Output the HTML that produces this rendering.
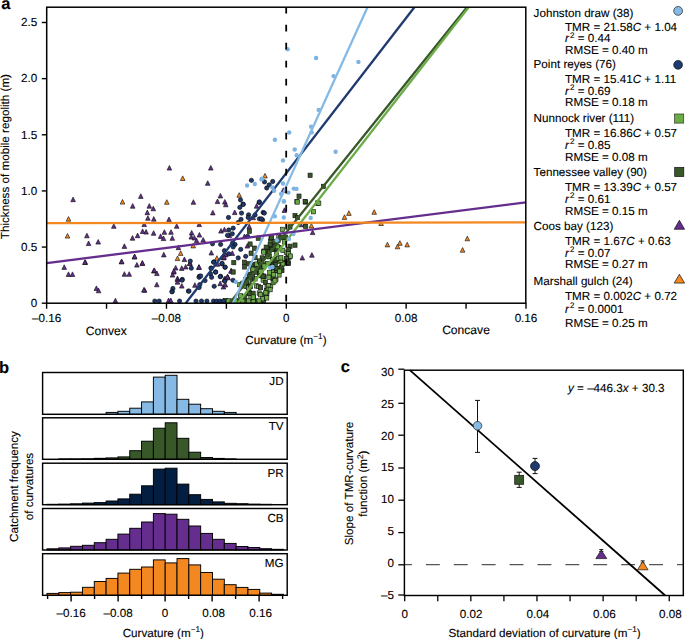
<!DOCTYPE html>
<html><head><meta charset="utf-8"><title>Figure</title>
<style>
html,body{margin:0;padding:0;background:#fff;width:685px;height:639px;overflow:hidden;}
svg{display:block;}
text{font-family:"Liberation Sans",sans-serif;fill:#000;stroke:#000;stroke-width:0.12px;text-rendering:geometricPrecision;}
</style></head><body>
<svg width="685" height="639" viewBox="0 0 685 639" font-family="Liberation Sans, sans-serif">
<rect width="685" height="639" fill="#fff"/>
<defs><clipPath id="ca"><rect x="46.7" y="7.2" width="479.09999999999997" height="296.0"/></clipPath></defs>
<g clip-path="url(#ca)">
<path d="M122.5 199.49L124.8 204.09L120.2 204.09Z" fill="#F48820" stroke="#111" stroke-width="0.65" stroke-linejoin="miter"/>
<path d="M182.7 175.89L185 180.49L180.4 180.49Z" fill="#F48820" stroke="#111" stroke-width="0.65" stroke-linejoin="miter"/>
<path d="M166.8 199.69L169.1 204.29L164.5 204.29Z" fill="#F48820" stroke="#111" stroke-width="0.65" stroke-linejoin="miter"/>
<path d="M265 173.39L267.3 177.99L262.7 177.99Z" fill="#F48820" stroke="#111" stroke-width="0.65" stroke-linejoin="miter"/>
<path d="M239.2 192.69L241.5 197.29L236.9 197.29Z" fill="#F48820" stroke="#111" stroke-width="0.65" stroke-linejoin="miter"/>
<path d="M68.5 216.59L70.8 221.19L66.2 221.19Z" fill="#F48820" stroke="#111" stroke-width="0.65" stroke-linejoin="miter"/>
<path d="M67.5 233.49L69.8 238.09L65.2 238.09Z" fill="#F48820" stroke="#111" stroke-width="0.65" stroke-linejoin="miter"/>
<path d="M193.2 243.29L195.5 247.89L190.9 247.89Z" fill="#F48820" stroke="#111" stroke-width="0.65" stroke-linejoin="miter"/>
<path d="M180.7 250.79L183 255.39L178.4 255.39Z" fill="#F48820" stroke="#111" stroke-width="0.65" stroke-linejoin="miter"/>
<path d="M177.5 255.99L179.8 260.59L175.2 260.59Z" fill="#F48820" stroke="#111" stroke-width="0.65" stroke-linejoin="miter"/>
<path d="M216.9 255.69L219.2 260.29L214.6 260.29Z" fill="#F48820" stroke="#111" stroke-width="0.65" stroke-linejoin="miter"/>
<path d="M311.4 223.39L313.7 227.99L309.1 227.99Z" fill="#F48820" stroke="#111" stroke-width="0.65" stroke-linejoin="miter"/>
<path d="M344.5 214.79L346.8 219.39L342.2 219.39Z" fill="#F48820" stroke="#111" stroke-width="0.65" stroke-linejoin="miter"/>
<path d="M348.9 210.79L351.2 215.39L346.6 215.39Z" fill="#F48820" stroke="#111" stroke-width="0.65" stroke-linejoin="miter"/>
<path d="M374.2 209.69L376.5 214.29L371.9 214.29Z" fill="#F48820" stroke="#111" stroke-width="0.65" stroke-linejoin="miter"/>
<path d="M381.1 220.89L383.4 225.49L378.8 225.49Z" fill="#F48820" stroke="#111" stroke-width="0.65" stroke-linejoin="miter"/>
<path d="M387.4 242.29L389.7 246.89L385.1 246.89Z" fill="#F48820" stroke="#111" stroke-width="0.65" stroke-linejoin="miter"/>
<path d="M399.9 240.69L402.2 245.29L397.6 245.29Z" fill="#F48820" stroke="#111" stroke-width="0.65" stroke-linejoin="miter"/>
<path d="M397.5 244.19L399.8 248.79L395.2 248.79Z" fill="#F48820" stroke="#111" stroke-width="0.65" stroke-linejoin="miter"/>
<path d="M407.2 242.29L409.5 246.89L404.9 246.89Z" fill="#F48820" stroke="#111" stroke-width="0.65" stroke-linejoin="miter"/>
<path d="M467.3 236.19L469.6 240.79L465 240.79Z" fill="#F48820" stroke="#111" stroke-width="0.65" stroke-linejoin="miter"/>
<path d="M462.6 247.59L464.9 252.19L460.3 252.19Z" fill="#F48820" stroke="#111" stroke-width="0.65" stroke-linejoin="miter"/>
<path d="M73.1 197.09L75.4 201.69L70.8 201.69Z" fill="#642D8E" stroke="#111" stroke-width="0.65" stroke-linejoin="miter"/>
<path d="M169.4 165.49L171.7 170.09L167.1 170.09Z" fill="#642D8E" stroke="#111" stroke-width="0.65" stroke-linejoin="miter"/>
<path d="M210.8 165.49L213.1 170.09L208.5 170.09Z" fill="#642D8E" stroke="#111" stroke-width="0.65" stroke-linejoin="miter"/>
<path d="M207.7 180.69L210 185.29L205.4 185.29Z" fill="#642D8E" stroke="#111" stroke-width="0.65" stroke-linejoin="miter"/>
<path d="M140.8 193.79L143.1 198.39L138.5 198.39Z" fill="#642D8E" stroke="#111" stroke-width="0.65" stroke-linejoin="miter"/>
<path d="M193.4 199.69L195.7 204.29L191.1 204.29Z" fill="#642D8E" stroke="#111" stroke-width="0.65" stroke-linejoin="miter"/>
<path d="M220.4 193.39L222.7 197.99L218.1 197.99Z" fill="#642D8E" stroke="#111" stroke-width="0.65" stroke-linejoin="miter"/>
<path d="M217.5 198.99L219.8 203.59L215.2 203.59Z" fill="#642D8E" stroke="#111" stroke-width="0.65" stroke-linejoin="miter"/>
<path d="M224.8 199.49L227.1 204.09L222.5 204.09Z" fill="#642D8E" stroke="#111" stroke-width="0.65" stroke-linejoin="miter"/>
<path d="M225.8 202.19L228.1 206.79L223.5 206.79Z" fill="#642D8E" stroke="#111" stroke-width="0.65" stroke-linejoin="miter"/>
<path d="M132.7 203.59L135 208.19L130.4 208.19Z" fill="#642D8E" stroke="#111" stroke-width="0.65" stroke-linejoin="miter"/>
<path d="M149.3 203.59L151.6 208.19L147 208.19Z" fill="#642D8E" stroke="#111" stroke-width="0.65" stroke-linejoin="miter"/>
<path d="M153.3 206.19L155.6 210.79L151 210.79Z" fill="#642D8E" stroke="#111" stroke-width="0.65" stroke-linejoin="miter"/>
<path d="M256.6 203.59L258.9 208.19L254.3 208.19Z" fill="#642D8E" stroke="#111" stroke-width="0.65" stroke-linejoin="miter"/>
<path d="M86.9 233.19L89.2 237.79L84.6 237.79Z" fill="#642D8E" stroke="#111" stroke-width="0.65" stroke-linejoin="miter"/>
<path d="M88.6 240.99L90.9 245.59L86.3 245.59Z" fill="#642D8E" stroke="#111" stroke-width="0.65" stroke-linejoin="miter"/>
<path d="M98.2 239.49L100.5 244.09L95.9 244.09Z" fill="#642D8E" stroke="#111" stroke-width="0.65" stroke-linejoin="miter"/>
<path d="M85.3 259.79L87.6 264.39L83 264.39Z" fill="#642D8E" stroke="#111" stroke-width="0.65" stroke-linejoin="miter"/>
<path d="M64.2 264.79L66.5 269.39L61.9 269.39Z" fill="#642D8E" stroke="#111" stroke-width="0.65" stroke-linejoin="miter"/>
<path d="M68.5 271.89L70.8 276.49L66.2 276.49Z" fill="#642D8E" stroke="#111" stroke-width="0.65" stroke-linejoin="miter"/>
<path d="M72.5 271.89L74.8 276.49L70.2 276.49Z" fill="#642D8E" stroke="#111" stroke-width="0.65" stroke-linejoin="miter"/>
<path d="M147.3 210.09L149.6 214.69L145 214.69Z" fill="#642D8E" stroke="#111" stroke-width="0.65" stroke-linejoin="miter"/>
<path d="M147.9 215.69L150.2 220.29L145.6 220.29Z" fill="#642D8E" stroke="#111" stroke-width="0.65" stroke-linejoin="miter"/>
<path d="M153.8 216.59L156.1 221.19L151.5 221.19Z" fill="#642D8E" stroke="#111" stroke-width="0.65" stroke-linejoin="miter"/>
<path d="M144.2 221.99L146.5 226.59L141.9 226.59Z" fill="#642D8E" stroke="#111" stroke-width="0.65" stroke-linejoin="miter"/>
<path d="M113.8 223.69L116.1 228.29L111.5 228.29Z" fill="#642D8E" stroke="#111" stroke-width="0.65" stroke-linejoin="miter"/>
<path d="M142.6 228.89L144.9 233.49L140.3 233.49Z" fill="#642D8E" stroke="#111" stroke-width="0.65" stroke-linejoin="miter"/>
<path d="M146.1 229.49L148.4 234.09L143.8 234.09Z" fill="#642D8E" stroke="#111" stroke-width="0.65" stroke-linejoin="miter"/>
<path d="M153.6 230.69L155.9 235.29L151.3 235.29Z" fill="#642D8E" stroke="#111" stroke-width="0.65" stroke-linejoin="miter"/>
<path d="M137.6 233.09L139.9 237.69L135.3 237.69Z" fill="#642D8E" stroke="#111" stroke-width="0.65" stroke-linejoin="miter"/>
<path d="M132.5 235.59L134.8 240.19L130.2 240.19Z" fill="#642D8E" stroke="#111" stroke-width="0.65" stroke-linejoin="miter"/>
<path d="M124.4 243.79L126.7 248.39L122.1 248.39Z" fill="#642D8E" stroke="#111" stroke-width="0.65" stroke-linejoin="miter"/>
<path d="M134.4 254.49L136.7 259.09L132.1 259.09Z" fill="#642D8E" stroke="#111" stroke-width="0.65" stroke-linejoin="miter"/>
<path d="M121.5 259.19L123.8 263.79L119.2 263.79Z" fill="#642D8E" stroke="#111" stroke-width="0.65" stroke-linejoin="miter"/>
<path d="M136.9 262.49L139.2 267.09L134.6 267.09Z" fill="#642D8E" stroke="#111" stroke-width="0.65" stroke-linejoin="miter"/>
<path d="M142.3 260.79L144.6 265.39L140 265.39Z" fill="#642D8E" stroke="#111" stroke-width="0.65" stroke-linejoin="miter"/>
<path d="M124.4 271.69L126.7 276.29L122.1 276.29Z" fill="#642D8E" stroke="#111" stroke-width="0.65" stroke-linejoin="miter"/>
<path d="M129.2 271.69L131.5 276.29L126.9 276.29Z" fill="#642D8E" stroke="#111" stroke-width="0.65" stroke-linejoin="miter"/>
<path d="M153.8 268.49L156.1 273.09L151.5 273.09Z" fill="#642D8E" stroke="#111" stroke-width="0.65" stroke-linejoin="miter"/>
<path d="M169 216.99L171.3 221.59L166.7 221.59Z" fill="#642D8E" stroke="#111" stroke-width="0.65" stroke-linejoin="miter"/>
<path d="M176.7 223.69L179 228.29L174.4 228.29Z" fill="#642D8E" stroke="#111" stroke-width="0.65" stroke-linejoin="miter"/>
<path d="M199.2 221.99L201.5 226.59L196.9 226.59Z" fill="#642D8E" stroke="#111" stroke-width="0.65" stroke-linejoin="miter"/>
<path d="M164.4 229.69L166.7 234.29L162.1 234.29Z" fill="#642D8E" stroke="#111" stroke-width="0.65" stroke-linejoin="miter"/>
<path d="M171 229.69L173.3 234.29L168.7 234.29Z" fill="#642D8E" stroke="#111" stroke-width="0.65" stroke-linejoin="miter"/>
<path d="M160.6 233.89L162.9 238.49L158.3 238.49Z" fill="#642D8E" stroke="#111" stroke-width="0.65" stroke-linejoin="miter"/>
<path d="M163.5 235.99L165.8 240.59L161.2 240.59Z" fill="#642D8E" stroke="#111" stroke-width="0.65" stroke-linejoin="miter"/>
<path d="M172.3 235.69L174.6 240.29L170 240.29Z" fill="#642D8E" stroke="#111" stroke-width="0.65" stroke-linejoin="miter"/>
<path d="M191.7 230.39L194 234.99L189.4 234.99Z" fill="#642D8E" stroke="#111" stroke-width="0.65" stroke-linejoin="miter"/>
<path d="M191.3 234.49L193.6 239.09L189 239.09Z" fill="#642D8E" stroke="#111" stroke-width="0.65" stroke-linejoin="miter"/>
<path d="M194.4 235.39L196.7 239.99L192.1 239.99Z" fill="#642D8E" stroke="#111" stroke-width="0.65" stroke-linejoin="miter"/>
<path d="M199.4 232.49L201.7 237.09L197.1 237.09Z" fill="#642D8E" stroke="#111" stroke-width="0.65" stroke-linejoin="miter"/>
<path d="M196.6 238.19L198.9 242.79L194.3 242.79Z" fill="#642D8E" stroke="#111" stroke-width="0.65" stroke-linejoin="miter"/>
<path d="M203.2 237.49L205.5 242.09L200.9 242.09Z" fill="#642D8E" stroke="#111" stroke-width="0.65" stroke-linejoin="miter"/>
<path d="M178.4 245.09L180.7 249.69L176.1 249.69Z" fill="#642D8E" stroke="#111" stroke-width="0.65" stroke-linejoin="miter"/>
<path d="M163.8 252.29L166.1 256.89L161.5 256.89Z" fill="#642D8E" stroke="#111" stroke-width="0.65" stroke-linejoin="miter"/>
<path d="M184.4 256.99L186.7 261.59L182.1 261.59Z" fill="#642D8E" stroke="#111" stroke-width="0.65" stroke-linejoin="miter"/>
<path d="M189.8 260.99L192.1 265.59L187.5 265.59Z" fill="#642D8E" stroke="#111" stroke-width="0.65" stroke-linejoin="miter"/>
<path d="M185.7 264.39L188 268.99L183.4 268.99Z" fill="#642D8E" stroke="#111" stroke-width="0.65" stroke-linejoin="miter"/>
<path d="M181.7 265.79L184 270.39L179.4 270.39Z" fill="#642D8E" stroke="#111" stroke-width="0.65" stroke-linejoin="miter"/>
<path d="M175.7 265.39L178 269.99L173.4 269.99Z" fill="#642D8E" stroke="#111" stroke-width="0.65" stroke-linejoin="miter"/>
<path d="M198.8 264.79L201.1 269.39L196.5 269.39Z" fill="#642D8E" stroke="#111" stroke-width="0.65" stroke-linejoin="miter"/>
<path d="M154.4 267.89L156.7 272.49L152.1 272.49Z" fill="#642D8E" stroke="#111" stroke-width="0.65" stroke-linejoin="miter"/>
<path d="M156.9 270.99L159.2 275.59L154.6 275.59Z" fill="#642D8E" stroke="#111" stroke-width="0.65" stroke-linejoin="miter"/>
<path d="M173.8 269.49L176.1 274.09L171.5 274.09Z" fill="#642D8E" stroke="#111" stroke-width="0.65" stroke-linejoin="miter"/>
<path d="M172.5 272.49L174.8 277.09L170.2 277.09Z" fill="#642D8E" stroke="#111" stroke-width="0.65" stroke-linejoin="miter"/>
<path d="M177.5 275.99L179.8 280.59L175.2 280.59Z" fill="#642D8E" stroke="#111" stroke-width="0.65" stroke-linejoin="miter"/>
<path d="M212.8 210.29L215.1 214.89L210.5 214.89Z" fill="#642D8E" stroke="#111" stroke-width="0.65" stroke-linejoin="miter"/>
<path d="M234.7 209.99L237 214.59L232.4 214.59Z" fill="#642D8E" stroke="#111" stroke-width="0.65" stroke-linejoin="miter"/>
<path d="M253.2 215.09L255.5 219.69L250.9 219.69Z" fill="#642D8E" stroke="#111" stroke-width="0.65" stroke-linejoin="miter"/>
<path d="M221 228.49L223.3 233.09L218.7 233.09Z" fill="#642D8E" stroke="#111" stroke-width="0.65" stroke-linejoin="miter"/>
<path d="M224.4 227.19L226.7 231.79L222.1 231.79Z" fill="#642D8E" stroke="#111" stroke-width="0.65" stroke-linejoin="miter"/>
<path d="M229.4 232.89L231.7 237.49L227.1 237.49Z" fill="#642D8E" stroke="#111" stroke-width="0.65" stroke-linejoin="miter"/>
<path d="M249.2 224.09L251.5 228.69L246.9 228.69Z" fill="#642D8E" stroke="#111" stroke-width="0.65" stroke-linejoin="miter"/>
<path d="M244.4 234.09L246.7 238.69L242.1 238.69Z" fill="#642D8E" stroke="#111" stroke-width="0.65" stroke-linejoin="miter"/>
<path d="M247.3 243.49L249.6 248.09L245 248.09Z" fill="#642D8E" stroke="#111" stroke-width="0.65" stroke-linejoin="miter"/>
<path d="M211.3 250.39L213.6 254.99L209 254.99Z" fill="#642D8E" stroke="#111" stroke-width="0.65" stroke-linejoin="miter"/>
<path d="M225.7 252.29L228 256.89L223.4 256.89Z" fill="#642D8E" stroke="#111" stroke-width="0.65" stroke-linejoin="miter"/>
<path d="M232.3 250.79L234.6 255.39L230 255.39Z" fill="#642D8E" stroke="#111" stroke-width="0.65" stroke-linejoin="miter"/>
<path d="M223.5 255.39L225.8 259.99L221.2 259.99Z" fill="#642D8E" stroke="#111" stroke-width="0.65" stroke-linejoin="miter"/>
<path d="M217.5 261.69L219.8 266.29L215.2 266.29Z" fill="#642D8E" stroke="#111" stroke-width="0.65" stroke-linejoin="miter"/>
<path d="M231.5 268.49L233.8 273.09L229.2 273.09Z" fill="#642D8E" stroke="#111" stroke-width="0.65" stroke-linejoin="miter"/>
<path d="M227.5 274.19L229.8 278.79L225.2 278.79Z" fill="#642D8E" stroke="#111" stroke-width="0.65" stroke-linejoin="miter"/>
<path d="M225 275.99L227.3 280.59L222.7 280.59Z" fill="#642D8E" stroke="#111" stroke-width="0.65" stroke-linejoin="miter"/>
<path d="M284.4 207.79L286.7 212.39L282.1 212.39Z" fill="#642D8E" stroke="#111" stroke-width="0.65" stroke-linejoin="miter"/>
<path d="M312.6 229.99L314.9 234.59L310.3 234.59Z" fill="#642D8E" stroke="#111" stroke-width="0.65" stroke-linejoin="miter"/>
<path d="M288.8 250.39L291.1 254.99L286.5 254.99Z" fill="#642D8E" stroke="#111" stroke-width="0.65" stroke-linejoin="miter"/>
<path d="M302.3 255.39L304.6 259.99L300 259.99Z" fill="#642D8E" stroke="#111" stroke-width="0.65" stroke-linejoin="miter"/>
<path d="M311.9 252.59L314.2 257.19L309.6 257.19Z" fill="#642D8E" stroke="#111" stroke-width="0.65" stroke-linejoin="miter"/>
<path d="M305.1 222.19L307.4 226.79L302.8 226.79Z" fill="#642D8E" stroke="#111" stroke-width="0.65" stroke-linejoin="miter"/>
<path d="M300.7 222.19L303 226.79L298.4 226.79Z" fill="#642D8E" stroke="#111" stroke-width="0.65" stroke-linejoin="miter"/>
<path d="M273.1 275.79L275.4 280.39L270.8 280.39Z" fill="#642D8E" stroke="#111" stroke-width="0.65" stroke-linejoin="miter"/>
<path d="M142.4 260.69L144.7 265.29L140.1 265.29Z" fill="#642D8E" stroke="#111" stroke-width="0.65" stroke-linejoin="miter"/>
<path d="M189.9 260.69L192.2 265.29L187.6 265.29Z" fill="#642D8E" stroke="#111" stroke-width="0.65" stroke-linejoin="miter"/>
<path d="M199.1 264.69L201.4 269.29L196.8 269.29Z" fill="#642D8E" stroke="#111" stroke-width="0.65" stroke-linejoin="miter"/>
<path d="M173.9 268.59L176.2 273.19L171.6 273.19Z" fill="#642D8E" stroke="#111" stroke-width="0.65" stroke-linejoin="miter"/>
<path d="M177.5 277.19L179.8 281.79L175.2 281.79Z" fill="#642D8E" stroke="#111" stroke-width="0.65" stroke-linejoin="miter"/>
<path d="M177.5 279.59L179.8 284.19L175.2 284.19Z" fill="#642D8E" stroke="#111" stroke-width="0.65" stroke-linejoin="miter"/>
<path d="M181.8 283.49L184.1 288.09L179.5 288.09Z" fill="#642D8E" stroke="#111" stroke-width="0.65" stroke-linejoin="miter"/>
<path d="M156.8 282.19L159.1 286.79L154.5 286.79Z" fill="#642D8E" stroke="#111" stroke-width="0.65" stroke-linejoin="miter"/>
<path d="M144.6 287.69L146.9 292.29L142.3 292.29Z" fill="#642D8E" stroke="#111" stroke-width="0.65" stroke-linejoin="miter"/>
<path d="M194.9 282.69L197.2 287.29L192.6 287.29Z" fill="#642D8E" stroke="#111" stroke-width="0.65" stroke-linejoin="miter"/>
<path d="M220.2 281.09L222.5 285.69L217.9 285.69Z" fill="#642D8E" stroke="#111" stroke-width="0.65" stroke-linejoin="miter"/>
<path d="M224.1 277.19L226.4 281.79L221.8 281.79Z" fill="#642D8E" stroke="#111" stroke-width="0.65" stroke-linejoin="miter"/>
<path d="M223.4 284.39L225.7 288.99L221.1 288.99Z" fill="#642D8E" stroke="#111" stroke-width="0.65" stroke-linejoin="miter"/>
<path d="M225.4 282.39L227.7 286.99L223.1 286.99Z" fill="#642D8E" stroke="#111" stroke-width="0.65" stroke-linejoin="miter"/>
<path d="M228 275.19L230.3 279.79L225.7 279.79Z" fill="#642D8E" stroke="#111" stroke-width="0.65" stroke-linejoin="miter"/>
<path d="M224.1 254.79L226.4 259.39L221.8 259.39Z" fill="#642D8E" stroke="#111" stroke-width="0.65" stroke-linejoin="miter"/>
<path d="M168.6 297.99L170.9 302.59L166.3 302.59Z" fill="#642D8E" stroke="#111" stroke-width="0.65" stroke-linejoin="miter"/>
<path d="M170.8 297.99L173.1 302.59L168.5 302.59Z" fill="#642D8E" stroke="#111" stroke-width="0.65" stroke-linejoin="miter"/>
<path d="M227.7 297.99L230 302.59L225.4 302.59Z" fill="#642D8E" stroke="#111" stroke-width="0.65" stroke-linejoin="miter"/>
<path d="M96.4 285.89L98.7 290.49L94.1 290.49Z" fill="#642D8E" stroke="#111" stroke-width="0.65" stroke-linejoin="miter"/>
<path d="M98.6 288.19L100.9 292.79L96.3 292.79Z" fill="#642D8E" stroke="#111" stroke-width="0.65" stroke-linejoin="miter"/>
<path d="M115.4 298.19L117.7 302.79L113.1 302.79Z" fill="#642D8E" stroke="#111" stroke-width="0.65" stroke-linejoin="miter"/>
<path d="M134.7 253.99L137 258.59L132.4 258.59Z" fill="#642D8E" stroke="#111" stroke-width="0.65" stroke-linejoin="miter"/>
<path d="M143.9 287.49L146.2 292.09L141.6 292.09Z" fill="#642D8E" stroke="#111" stroke-width="0.65" stroke-linejoin="miter"/>
<path d="M84.9 259.89L87.2 264.49L82.6 264.49Z" fill="#642D8E" stroke="#111" stroke-width="0.65" stroke-linejoin="miter"/>
<path d="M121.7 259.09L124 263.69L119.4 263.69Z" fill="#642D8E" stroke="#111" stroke-width="0.65" stroke-linejoin="miter"/>
<path d="M273.6 276.49L275.9 281.09L271.3 281.09Z" fill="#642D8E" stroke="#111" stroke-width="0.65" stroke-linejoin="miter"/>
<path d="M230.9 268.59L233.2 273.19L228.6 273.19Z" fill="#642D8E" stroke="#111" stroke-width="0.65" stroke-linejoin="miter"/>
<path d="M227.6 274.49L229.9 279.09L225.3 279.09Z" fill="#642D8E" stroke="#111" stroke-width="0.65" stroke-linejoin="miter"/>
<path d="M283.3 187.79L285.6 192.39L281 192.39Z" fill="#642D8E" stroke="#111" stroke-width="0.65" stroke-linejoin="miter"/>
<rect x="308.05" y="173.1" width="4.1" height="4.4" fill="#395829" stroke="#111" stroke-width="0.6"/>
<rect x="321.35" y="184.2" width="4.1" height="4.4" fill="#395829" stroke="#111" stroke-width="0.6"/>
<rect x="296.95" y="194" width="4.1" height="4.4" fill="#395829" stroke="#111" stroke-width="0.6"/>
<rect x="303.45" y="199.8" width="4.1" height="4.4" fill="#395829" stroke="#111" stroke-width="0.6"/>
<rect x="247.35" y="229.1" width="4.1" height="4.4" fill="#395829" stroke="#111" stroke-width="0.6"/>
<rect x="256.15" y="236" width="4.1" height="4.4" fill="#395829" stroke="#111" stroke-width="0.6"/>
<rect x="248.05" y="241.9" width="4.1" height="4.4" fill="#395829" stroke="#111" stroke-width="0.6"/>
<rect x="252.35" y="246" width="4.1" height="4.4" fill="#395829" stroke="#111" stroke-width="0.6"/>
<rect x="249.05" y="251" width="4.1" height="4.4" fill="#395829" stroke="#111" stroke-width="0.6"/>
<rect x="231.75" y="260.4" width="4.1" height="4.4" fill="#395829" stroke="#111" stroke-width="0.6"/>
<rect x="231.15" y="269.8" width="4.1" height="4.4" fill="#395829" stroke="#111" stroke-width="0.6"/>
<rect x="246.75" y="261.6" width="4.1" height="4.4" fill="#395829" stroke="#111" stroke-width="0.6"/>
<rect x="253.05" y="255.4" width="4.1" height="4.4" fill="#395829" stroke="#111" stroke-width="0.6"/>
<rect x="251.15" y="262.9" width="4.1" height="4.4" fill="#395829" stroke="#111" stroke-width="0.6"/>
<rect x="247.35" y="272.9" width="4.1" height="4.4" fill="#395829" stroke="#111" stroke-width="0.6"/>
<rect x="261.75" y="249.1" width="4.1" height="4.4" fill="#395829" stroke="#111" stroke-width="0.6"/>
<rect x="260.55" y="256.6" width="4.1" height="4.4" fill="#395829" stroke="#111" stroke-width="0.6"/>
<rect x="255.55" y="265.4" width="4.1" height="4.4" fill="#395829" stroke="#111" stroke-width="0.6"/>
<rect x="294.85" y="199.3" width="4.1" height="4.4" fill="#395829" stroke="#111" stroke-width="0.6"/>
<rect x="303.05" y="199.3" width="4.1" height="4.4" fill="#395829" stroke="#111" stroke-width="0.6"/>
<rect x="315.55" y="200.9" width="4.1" height="4.4" fill="#395829" stroke="#111" stroke-width="0.6"/>
<rect x="292.95" y="213.4" width="4.1" height="4.4" fill="#395829" stroke="#111" stroke-width="0.6"/>
<rect x="295.45" y="215.3" width="4.1" height="4.4" fill="#395829" stroke="#111" stroke-width="0.6"/>
<rect x="303.65" y="224.1" width="4.1" height="4.4" fill="#395829" stroke="#111" stroke-width="0.6"/>
<rect x="287.95" y="224.7" width="4.1" height="4.4" fill="#395829" stroke="#111" stroke-width="0.6"/>
<rect x="292.95" y="242.9" width="4.1" height="4.4" fill="#395829" stroke="#111" stroke-width="0.6"/>
<rect x="287.95" y="244.1" width="4.1" height="4.4" fill="#395829" stroke="#111" stroke-width="0.6"/>
<rect x="286.15" y="261" width="4.1" height="4.4" fill="#395829" stroke="#111" stroke-width="0.6"/>
<rect x="279.85" y="267.9" width="4.1" height="4.4" fill="#395829" stroke="#111" stroke-width="0.6"/>
<rect x="242.35" y="260.1" width="4.1" height="4.4" fill="#395829" stroke="#111" stroke-width="0.6"/>
<rect x="242.45" y="264.7" width="4.1" height="4.4" fill="#395829" stroke="#111" stroke-width="0.6"/>
<rect x="286.05" y="261.3" width="4.1" height="4.4" fill="#395829" stroke="#111" stroke-width="0.6"/>
<rect x="279.75" y="268.3" width="4.1" height="4.4" fill="#395829" stroke="#111" stroke-width="0.6"/>
<rect x="223.15" y="298.4" width="4.1" height="4.4" fill="#395829" stroke="#111" stroke-width="0.6"/>
<rect x="295.15" y="199.8" width="4.1" height="4.4" fill="#6CAC48" stroke="#111" stroke-width="0.6"/>
<rect x="316.75" y="201" width="4.1" height="4.4" fill="#6CAC48" stroke="#111" stroke-width="0.6"/>
<rect x="311.45" y="209.5" width="4.1" height="4.4" fill="#6CAC48" stroke="#111" stroke-width="0.6"/>
<rect x="280.45" y="227.2" width="4.1" height="4.4" fill="#6CAC48" stroke="#111" stroke-width="0.6"/>
<rect x="268.55" y="239.1" width="4.1" height="4.4" fill="#6CAC48" stroke="#111" stroke-width="0.6"/>
<rect x="271.05" y="242.9" width="4.1" height="4.4" fill="#6CAC48" stroke="#111" stroke-width="0.6"/>
<rect x="276.75" y="234.1" width="4.1" height="4.4" fill="#6CAC48" stroke="#111" stroke-width="0.6"/>
<rect x="261.05" y="277.8" width="4.1" height="4.4" fill="#6CAC48" stroke="#111" stroke-width="0.6"/>
<rect x="254.45" y="283.7" width="4.1" height="4.4" fill="#6CAC48" stroke="#111" stroke-width="0.6"/>
<rect x="264.95" y="284.3" width="4.1" height="4.4" fill="#6CAC48" stroke="#111" stroke-width="0.6"/>
<rect x="264.35" y="288.3" width="4.1" height="4.4" fill="#6CAC48" stroke="#111" stroke-width="0.6"/>
<rect x="264.75" y="291.6" width="4.1" height="4.4" fill="#6CAC48" stroke="#111" stroke-width="0.6"/>
<rect x="250.55" y="296.2" width="4.1" height="4.4" fill="#6CAC48" stroke="#111" stroke-width="0.6"/>
<rect x="271.55" y="268.6" width="4.1" height="4.4" fill="#6CAC48" stroke="#111" stroke-width="0.6"/>
<rect x="267.65" y="270.5" width="4.1" height="4.4" fill="#6CAC48" stroke="#111" stroke-width="0.6"/>
<rect x="275.55" y="259.4" width="4.1" height="4.4" fill="#6CAC48" stroke="#111" stroke-width="0.6"/>
<rect x="280.75" y="260.7" width="4.1" height="4.4" fill="#6CAC48" stroke="#111" stroke-width="0.6"/>
<rect x="237.45" y="282.4" width="4.1" height="4.4" fill="#6CAC48" stroke="#111" stroke-width="0.6"/>
<rect x="250.55" y="267.3" width="4.1" height="4.4" fill="#6CAC48" stroke="#111" stroke-width="0.6"/>
<rect x="265.05" y="288.9" width="4.1" height="4.4" fill="#6CAC48" stroke="#111" stroke-width="0.6"/>
<rect x="259.25" y="267.9" width="4.1" height="4.4" fill="#6CAC48" stroke="#111" stroke-width="0.6"/>
<rect x="258.05" y="272.9" width="4.1" height="4.4" fill="#6CAC48" stroke="#111" stroke-width="0.6"/>
<rect x="253.05" y="276.6" width="4.1" height="4.4" fill="#6CAC48" stroke="#111" stroke-width="0.6"/>
<rect x="267.63" y="283.69" width="4.1" height="4.4" fill="#6CAC48" stroke="#111" stroke-width="0.6"/>
<rect x="257.71" y="273.17" width="4.1" height="4.4" fill="#395829" stroke="#111" stroke-width="0.6"/>
<rect x="250.29" y="272.58" width="4.1" height="4.4" fill="#6CAC48" stroke="#111" stroke-width="0.6"/>
<rect x="267.4" y="254.52" width="4.1" height="4.4" fill="#6CAC48" stroke="#111" stroke-width="0.6"/>
<rect x="247.09" y="289.98" width="4.1" height="4.4" fill="#395829" stroke="#111" stroke-width="0.6"/>
<rect x="258.87" y="264.1" width="4.1" height="4.4" fill="#395829" stroke="#111" stroke-width="0.6"/>
<rect x="282.53" y="239.51" width="4.1" height="4.4" fill="#6CAC48" stroke="#111" stroke-width="0.6"/>
<rect x="263.38" y="280.24" width="4.1" height="4.4" fill="#395829" stroke="#111" stroke-width="0.6"/>
<rect x="257.45" y="270.54" width="4.1" height="4.4" fill="#6CAC48" stroke="#111" stroke-width="0.6"/>
<rect x="253.43" y="298.8" width="4.1" height="4.4" fill="#395829" stroke="#111" stroke-width="0.6"/>
<rect x="247.34" y="291.45" width="4.1" height="4.4" fill="#395829" stroke="#111" stroke-width="0.6"/>
<rect x="284.21" y="249.99" width="4.1" height="4.4" fill="#6CAC48" stroke="#111" stroke-width="0.6"/>
<rect x="261.28" y="264.91" width="4.1" height="4.4" fill="#395829" stroke="#111" stroke-width="0.6"/>
<rect x="257.14" y="290.86" width="4.1" height="4.4" fill="#6CAC48" stroke="#111" stroke-width="0.6"/>
<rect x="248.83" y="295.67" width="4.1" height="4.4" fill="#6CAC48" stroke="#111" stroke-width="0.6"/>
<rect x="276.79" y="245.43" width="4.1" height="4.4" fill="#395829" stroke="#111" stroke-width="0.6"/>
<rect x="265.8" y="248.76" width="4.1" height="4.4" fill="#6CAC48" stroke="#111" stroke-width="0.6"/>
<rect x="253.86" y="269.9" width="4.1" height="4.4" fill="#395829" stroke="#111" stroke-width="0.6"/>
<rect x="276.09" y="238.22" width="4.1" height="4.4" fill="#395829" stroke="#111" stroke-width="0.6"/>
<rect x="270.97" y="275.07" width="4.1" height="4.4" fill="#395829" stroke="#111" stroke-width="0.6"/>
<rect x="274.29" y="257.03" width="4.1" height="4.4" fill="#6CAC48" stroke="#111" stroke-width="0.6"/>
<rect x="280.68" y="261.55" width="4.1" height="4.4" fill="#6CAC48" stroke="#111" stroke-width="0.6"/>
<rect x="253.05" y="262.45" width="4.1" height="4.4" fill="#395829" stroke="#111" stroke-width="0.6"/>
<rect x="271" y="265.5" width="4.1" height="4.4" fill="#6CAC48" stroke="#111" stroke-width="0.6"/>
<rect x="256.56" y="284.27" width="4.1" height="4.4" fill="#6CAC48" stroke="#111" stroke-width="0.6"/>
<rect x="247.9" y="272.16" width="4.1" height="4.4" fill="#395829" stroke="#111" stroke-width="0.6"/>
<rect x="248.88" y="276.52" width="4.1" height="4.4" fill="#6CAC48" stroke="#111" stroke-width="0.6"/>
<rect x="285.2" y="259.87" width="4.1" height="4.4" fill="#395829" stroke="#111" stroke-width="0.6"/>
<rect x="271.07" y="262.3" width="4.1" height="4.4" fill="#395829" stroke="#111" stroke-width="0.6"/>
<rect x="275.12" y="268.47" width="4.1" height="4.4" fill="#6CAC48" stroke="#111" stroke-width="0.6"/>
<rect x="273.24" y="247.07" width="4.1" height="4.4" fill="#395829" stroke="#111" stroke-width="0.6"/>
<rect x="270.49" y="257.22" width="4.1" height="4.4" fill="#395829" stroke="#111" stroke-width="0.6"/>
<rect x="280.12" y="261.12" width="4.1" height="4.4" fill="#395829" stroke="#111" stroke-width="0.6"/>
<rect x="268.71" y="284" width="4.1" height="4.4" fill="#6CAC48" stroke="#111" stroke-width="0.6"/>
<rect x="250.24" y="274.83" width="4.1" height="4.4" fill="#395829" stroke="#111" stroke-width="0.6"/>
<rect x="273.91" y="277.23" width="4.1" height="4.4" fill="#6CAC48" stroke="#111" stroke-width="0.6"/>
<rect x="274.26" y="250.76" width="4.1" height="4.4" fill="#6CAC48" stroke="#111" stroke-width="0.6"/>
<rect x="258.95" y="261.99" width="4.1" height="4.4" fill="#395829" stroke="#111" stroke-width="0.6"/>
<rect x="274.23" y="268.2" width="4.1" height="4.4" fill="#395829" stroke="#111" stroke-width="0.6"/>
<rect x="261.79" y="296.38" width="4.1" height="4.4" fill="#6CAC48" stroke="#111" stroke-width="0.6"/>
<rect x="271.5" y="265.13" width="4.1" height="4.4" fill="#395829" stroke="#111" stroke-width="0.6"/>
<rect x="273.91" y="257.54" width="4.1" height="4.4" fill="#395829" stroke="#111" stroke-width="0.6"/>
<rect x="251.12" y="291.15" width="4.1" height="4.4" fill="#395829" stroke="#111" stroke-width="0.6"/>
<rect x="257.29" y="260.35" width="4.1" height="4.4" fill="#6CAC48" stroke="#111" stroke-width="0.6"/>
<rect x="244.49" y="284.01" width="4.1" height="4.4" fill="#395829" stroke="#111" stroke-width="0.6"/>
<rect x="266.31" y="283.6" width="4.1" height="4.4" fill="#6CAC48" stroke="#111" stroke-width="0.6"/>
<rect x="265.53" y="261.32" width="4.1" height="4.4" fill="#6CAC48" stroke="#111" stroke-width="0.6"/>
<rect x="247.06" y="274.24" width="4.1" height="4.4" fill="#395829" stroke="#111" stroke-width="0.6"/>
<rect x="243.08" y="298.8" width="4.1" height="4.4" fill="#395829" stroke="#111" stroke-width="0.6"/>
<rect x="279.22" y="265.08" width="4.1" height="4.4" fill="#395829" stroke="#111" stroke-width="0.6"/>
<rect x="251.23" y="298.8" width="4.1" height="4.4" fill="#6CAC48" stroke="#111" stroke-width="0.6"/>
<rect x="236.93" y="298.8" width="4.1" height="4.4" fill="#395829" stroke="#111" stroke-width="0.6"/>
<rect x="273.69" y="247.29" width="4.1" height="4.4" fill="#395829" stroke="#111" stroke-width="0.6"/>
<rect x="258.44" y="292.55" width="4.1" height="4.4" fill="#6CAC48" stroke="#111" stroke-width="0.6"/>
<rect x="280.82" y="261.55" width="4.1" height="4.4" fill="#6CAC48" stroke="#111" stroke-width="0.6"/>
<rect x="268.97" y="235.78" width="4.1" height="4.4" fill="#395829" stroke="#111" stroke-width="0.6"/>
<rect x="277.06" y="272.73" width="4.1" height="4.4" fill="#6CAC48" stroke="#111" stroke-width="0.6"/>
<rect x="272.5" y="244.69" width="4.1" height="4.4" fill="#395829" stroke="#111" stroke-width="0.6"/>
<rect x="271.08" y="280.38" width="4.1" height="4.4" fill="#6CAC48" stroke="#111" stroke-width="0.6"/>
<rect x="285.89" y="253.98" width="4.1" height="4.4" fill="#395829" stroke="#111" stroke-width="0.6"/>
<rect x="261.61" y="298.8" width="4.1" height="4.4" fill="#395829" stroke="#111" stroke-width="0.6"/>
<rect x="287.22" y="254.75" width="4.1" height="4.4" fill="#6CAC48" stroke="#111" stroke-width="0.6"/>
<rect x="274.74" y="266.34" width="4.1" height="4.4" fill="#395829" stroke="#111" stroke-width="0.6"/>
<rect x="254.42" y="267.15" width="4.1" height="4.4" fill="#6CAC48" stroke="#111" stroke-width="0.6"/>
<rect x="266.01" y="253.66" width="4.1" height="4.4" fill="#6CAC48" stroke="#111" stroke-width="0.6"/>
<rect x="262.95" y="293.66" width="4.1" height="4.4" fill="#6CAC48" stroke="#111" stroke-width="0.6"/>
<rect x="254.7" y="261.88" width="4.1" height="4.4" fill="#6CAC48" stroke="#111" stroke-width="0.6"/>
<rect x="267.64" y="245.32" width="4.1" height="4.4" fill="#395829" stroke="#111" stroke-width="0.6"/>
<rect x="240.76" y="298.8" width="4.1" height="4.4" fill="#6CAC48" stroke="#111" stroke-width="0.6"/>
<rect x="226.23" y="298.8" width="4.1" height="4.4" fill="#6CAC48" stroke="#111" stroke-width="0.6"/>
<rect x="271.33" y="272.51" width="4.1" height="4.4" fill="#6CAC48" stroke="#111" stroke-width="0.6"/>
<rect x="264.1" y="245.06" width="4.1" height="4.4" fill="#395829" stroke="#111" stroke-width="0.6"/>
<rect x="259.14" y="266.98" width="4.1" height="4.4" fill="#395829" stroke="#111" stroke-width="0.6"/>
<rect x="251.57" y="295.37" width="4.1" height="4.4" fill="#395829" stroke="#111" stroke-width="0.6"/>
<rect x="266.13" y="287.05" width="4.1" height="4.4" fill="#6CAC48" stroke="#111" stroke-width="0.6"/>
<rect x="283.48" y="234.93" width="4.1" height="4.4" fill="#395829" stroke="#111" stroke-width="0.6"/>
<rect x="261.44" y="262.61" width="4.1" height="4.4" fill="#395829" stroke="#111" stroke-width="0.6"/>
<rect x="268.87" y="263.14" width="4.1" height="4.4" fill="#395829" stroke="#111" stroke-width="0.6"/>
<rect x="273.23" y="262.37" width="4.1" height="4.4" fill="#395829" stroke="#111" stroke-width="0.6"/>
<rect x="260.51" y="296.53" width="4.1" height="4.4" fill="#6CAC48" stroke="#111" stroke-width="0.6"/>
<rect x="263.79" y="291.4" width="4.1" height="4.4" fill="#6CAC48" stroke="#111" stroke-width="0.6"/>
<rect x="269.54" y="235.59" width="4.1" height="4.4" fill="#395829" stroke="#111" stroke-width="0.6"/>
<rect x="248.46" y="276.92" width="4.1" height="4.4" fill="#395829" stroke="#111" stroke-width="0.6"/>
<rect x="256.97" y="298.8" width="4.1" height="4.4" fill="#6CAC48" stroke="#111" stroke-width="0.6"/>
<rect x="260.1" y="255.76" width="4.1" height="4.4" fill="#395829" stroke="#111" stroke-width="0.6"/>
<rect x="280.78" y="248.12" width="4.1" height="4.4" fill="#6CAC48" stroke="#111" stroke-width="0.6"/>
<rect x="258.64" y="285.36" width="4.1" height="4.4" fill="#395829" stroke="#111" stroke-width="0.6"/>
<rect x="257.8" y="269.75" width="4.1" height="4.4" fill="#395829" stroke="#111" stroke-width="0.6"/>
<rect x="278.77" y="258.27" width="4.1" height="4.4" fill="#6CAC48" stroke="#111" stroke-width="0.6"/>
<rect x="258.41" y="269.08" width="4.1" height="4.4" fill="#6CAC48" stroke="#111" stroke-width="0.6"/>
<rect x="261.91" y="274.05" width="4.1" height="4.4" fill="#395829" stroke="#111" stroke-width="0.6"/>
<rect x="251.12" y="294.87" width="4.1" height="4.4" fill="#6CAC48" stroke="#111" stroke-width="0.6"/>
<rect x="269.58" y="247.23" width="4.1" height="4.4" fill="#395829" stroke="#111" stroke-width="0.6"/>
<rect x="285.85" y="258.15" width="4.1" height="4.4" fill="#395829" stroke="#111" stroke-width="0.6"/>
<rect x="250.91" y="267.09" width="4.1" height="4.4" fill="#6CAC48" stroke="#111" stroke-width="0.6"/>
<rect x="268.11" y="242.05" width="4.1" height="4.4" fill="#395829" stroke="#111" stroke-width="0.6"/>
<rect x="277.64" y="269.04" width="4.1" height="4.4" fill="#6CAC48" stroke="#111" stroke-width="0.6"/>
<rect x="274.44" y="246.31" width="4.1" height="4.4" fill="#395829" stroke="#111" stroke-width="0.6"/>
<rect x="270.55" y="264.27" width="4.1" height="4.4" fill="#395829" stroke="#111" stroke-width="0.6"/>
<rect x="242.68" y="294.45" width="4.1" height="4.4" fill="#395829" stroke="#111" stroke-width="0.6"/>
<rect x="278.73" y="235.14" width="4.1" height="4.4" fill="#395829" stroke="#111" stroke-width="0.6"/>
<rect x="276.19" y="256.19" width="4.1" height="4.4" fill="#6CAC48" stroke="#111" stroke-width="0.6"/>
<rect x="265.25" y="252.29" width="4.1" height="4.4" fill="#395829" stroke="#111" stroke-width="0.6"/>
<rect x="268.12" y="287.4" width="4.1" height="4.4" fill="#6CAC48" stroke="#111" stroke-width="0.6"/>
<rect x="272.07" y="239.48" width="4.1" height="4.4" fill="#395829" stroke="#111" stroke-width="0.6"/>
<rect x="238.3" y="293.6" width="4.1" height="4.4" fill="#6CAC48" stroke="#111" stroke-width="0.6"/>
<rect x="264.71" y="295.68" width="4.1" height="4.4" fill="#6CAC48" stroke="#111" stroke-width="0.6"/>
<rect x="267.01" y="249.58" width="4.1" height="4.4" fill="#395829" stroke="#111" stroke-width="0.6"/>
<rect x="247.81" y="282.85" width="4.1" height="4.4" fill="#6CAC48" stroke="#111" stroke-width="0.6"/>
<rect x="241.94" y="283.76" width="4.1" height="4.4" fill="#6CAC48" stroke="#111" stroke-width="0.6"/>
<rect x="262.01" y="263.82" width="4.1" height="4.4" fill="#6CAC48" stroke="#111" stroke-width="0.6"/>
<rect x="233.66" y="298.8" width="4.1" height="4.4" fill="#6CAC48" stroke="#111" stroke-width="0.6"/>
<rect x="262.65" y="249.04" width="4.1" height="4.4" fill="#395829" stroke="#111" stroke-width="0.6"/>
<rect x="269.89" y="247.21" width="4.1" height="4.4" fill="#395829" stroke="#111" stroke-width="0.6"/>
<rect x="243.56" y="277.33" width="4.1" height="4.4" fill="#395829" stroke="#111" stroke-width="0.6"/>
<rect x="257.44" y="258.84" width="4.1" height="4.4" fill="#395829" stroke="#111" stroke-width="0.6"/>
<rect x="272.89" y="278.61" width="4.1" height="4.4" fill="#6CAC48" stroke="#111" stroke-width="0.6"/>
<rect x="230.15" y="298.8" width="4.1" height="4.4" fill="#6CAC48" stroke="#111" stroke-width="0.6"/>
<rect x="246.67" y="278.79" width="4.1" height="4.4" fill="#6CAC48" stroke="#111" stroke-width="0.6"/>
<rect x="286.67" y="251.45" width="4.1" height="4.4" fill="#6CAC48" stroke="#111" stroke-width="0.6"/>
<rect x="239.97" y="282.9" width="4.1" height="4.4" fill="#6CAC48" stroke="#111" stroke-width="0.6"/>
<rect x="259.74" y="273.44" width="4.1" height="4.4" fill="#395829" stroke="#111" stroke-width="0.6"/>
<rect x="261.7" y="249.92" width="4.1" height="4.4" fill="#6CAC48" stroke="#111" stroke-width="0.6"/>
<rect x="246.3" y="285.32" width="4.1" height="4.4" fill="#6CAC48" stroke="#111" stroke-width="0.6"/>
<rect x="244.35" y="279.85" width="4.1" height="4.4" fill="#395829" stroke="#111" stroke-width="0.6"/>
<rect x="266.84" y="275.19" width="4.1" height="4.4" fill="#6CAC48" stroke="#111" stroke-width="0.6"/>
<rect x="248.34" y="284.41" width="4.1" height="4.4" fill="#395829" stroke="#111" stroke-width="0.6"/>
<rect x="263.83" y="290.55" width="4.1" height="4.4" fill="#6CAC48" stroke="#111" stroke-width="0.6"/>
<rect x="288.57" y="253.89" width="4.1" height="4.4" fill="#6CAC48" stroke="#111" stroke-width="0.6"/>
<rect x="246.39" y="298.8" width="4.1" height="4.4" fill="#6CAC48" stroke="#111" stroke-width="0.6"/>
<rect x="284.32" y="256.62" width="4.1" height="4.4" fill="#395829" stroke="#111" stroke-width="0.6"/>
<rect x="261.04" y="274.14" width="4.1" height="4.4" fill="#395829" stroke="#111" stroke-width="0.6"/>
<rect x="275.51" y="244.46" width="4.1" height="4.4" fill="#6CAC48" stroke="#111" stroke-width="0.6"/>
<rect x="286.59" y="247.24" width="4.1" height="4.4" fill="#395829" stroke="#111" stroke-width="0.6"/>
<rect x="240.83" y="281.06" width="4.1" height="4.4" fill="#395829" stroke="#111" stroke-width="0.6"/>
<rect x="278.85" y="255.58" width="4.1" height="4.4" fill="#6CAC48" stroke="#111" stroke-width="0.6"/>
<line x1="467" y1="7.2" x2="229.5" y2="303.2" stroke="#395829" stroke-width="2.3" />
<line x1="468.6" y1="7.2" x2="237.8" y2="303.2" stroke="#6CAC48" stroke-width="2.3" />
<circle cx="264.5" cy="181.9" r="2.15" fill="#1E3A6E" stroke="#000" stroke-width="0.6"/>
<circle cx="272.7" cy="181.5" r="2.15" fill="#1E3A6E" stroke="#000" stroke-width="0.6"/>
<circle cx="269.2" cy="184.9" r="2.15" fill="#1E3A6E" stroke="#000" stroke-width="0.6"/>
<circle cx="266.7" cy="188" r="2.15" fill="#1E3A6E" stroke="#000" stroke-width="0.6"/>
<circle cx="251.4" cy="180.3" r="2.15" fill="#1E3A6E" stroke="#000" stroke-width="0.6"/>
<circle cx="240.5" cy="199.9" r="2.15" fill="#1E3A6E" stroke="#000" stroke-width="0.6"/>
<circle cx="243.1" cy="204.2" r="2.15" fill="#1E3A6E" stroke="#000" stroke-width="0.6"/>
<circle cx="239.8" cy="207.4" r="2.15" fill="#1E3A6E" stroke="#000" stroke-width="0.6"/>
<circle cx="259.2" cy="202.5" r="2.15" fill="#1E3A6E" stroke="#000" stroke-width="0.6"/>
<circle cx="190.3" cy="261.1" r="2.15" fill="#1E3A6E" stroke="#000" stroke-width="0.6"/>
<circle cx="191.3" cy="268.2" r="2.15" fill="#1E3A6E" stroke="#000" stroke-width="0.6"/>
<circle cx="199.4" cy="276.3" r="2.15" fill="#1E3A6E" stroke="#000" stroke-width="0.6"/>
<circle cx="182.3" cy="279.5" r="2.15" fill="#1E3A6E" stroke="#000" stroke-width="0.6"/>
<circle cx="228.5" cy="217.5" r="2.15" fill="#1E3A6E" stroke="#000" stroke-width="0.6"/>
<circle cx="241.5" cy="213.1" r="2.15" fill="#1E3A6E" stroke="#000" stroke-width="0.6"/>
<circle cx="248.6" cy="214.8" r="2.15" fill="#1E3A6E" stroke="#000" stroke-width="0.6"/>
<circle cx="241" cy="219.4" r="2.15" fill="#1E3A6E" stroke="#000" stroke-width="0.6"/>
<circle cx="238.2" cy="222.5" r="2.15" fill="#1E3A6E" stroke="#000" stroke-width="0.6"/>
<circle cx="248.2" cy="217.5" r="2.15" fill="#1E3A6E" stroke="#000" stroke-width="0.6"/>
<circle cx="255.1" cy="215" r="2.15" fill="#1E3A6E" stroke="#000" stroke-width="0.6"/>
<circle cx="259.4" cy="218.8" r="2.15" fill="#1E3A6E" stroke="#000" stroke-width="0.6"/>
<circle cx="262.6" cy="220" r="2.15" fill="#1E3A6E" stroke="#000" stroke-width="0.6"/>
<circle cx="263.2" cy="212.5" r="2.15" fill="#1E3A6E" stroke="#000" stroke-width="0.6"/>
<circle cx="259.4" cy="201.9" r="2.15" fill="#1E3A6E" stroke="#000" stroke-width="0.6"/>
<circle cx="233.2" cy="228.2" r="2.15" fill="#1E3A6E" stroke="#000" stroke-width="0.6"/>
<circle cx="228.8" cy="230" r="2.15" fill="#1E3A6E" stroke="#000" stroke-width="0.6"/>
<circle cx="232.3" cy="233.8" r="2.15" fill="#1E3A6E" stroke="#000" stroke-width="0.6"/>
<circle cx="227.5" cy="235.3" r="2.15" fill="#1E3A6E" stroke="#000" stroke-width="0.6"/>
<circle cx="212.5" cy="243.8" r="2.15" fill="#1E3A6E" stroke="#000" stroke-width="0.6"/>
<circle cx="220.6" cy="244.4" r="2.15" fill="#1E3A6E" stroke="#000" stroke-width="0.6"/>
<circle cx="232.5" cy="243.2" r="2.15" fill="#1E3A6E" stroke="#000" stroke-width="0.6"/>
<circle cx="235" cy="244.4" r="2.15" fill="#1E3A6E" stroke="#000" stroke-width="0.6"/>
<circle cx="233.2" cy="246.9" r="2.15" fill="#1E3A6E" stroke="#000" stroke-width="0.6"/>
<circle cx="240.7" cy="249.4" r="2.15" fill="#1E3A6E" stroke="#000" stroke-width="0.6"/>
<circle cx="224.4" cy="250.7" r="2.15" fill="#1E3A6E" stroke="#000" stroke-width="0.6"/>
<circle cx="228.8" cy="253.8" r="2.15" fill="#1E3A6E" stroke="#000" stroke-width="0.6"/>
<circle cx="238.2" cy="257.9" r="2.15" fill="#1E3A6E" stroke="#000" stroke-width="0.6"/>
<circle cx="213.8" cy="262" r="2.15" fill="#1E3A6E" stroke="#000" stroke-width="0.6"/>
<circle cx="221.9" cy="263.8" r="2.15" fill="#1E3A6E" stroke="#000" stroke-width="0.6"/>
<circle cx="225" cy="267.3" r="2.15" fill="#1E3A6E" stroke="#000" stroke-width="0.6"/>
<circle cx="211.3" cy="268.2" r="2.15" fill="#1E3A6E" stroke="#000" stroke-width="0.6"/>
<circle cx="215.6" cy="272" r="2.15" fill="#1E3A6E" stroke="#000" stroke-width="0.6"/>
<circle cx="210.6" cy="273.8" r="2.15" fill="#1E3A6E" stroke="#000" stroke-width="0.6"/>
<circle cx="220.6" cy="276.3" r="2.15" fill="#1E3A6E" stroke="#000" stroke-width="0.6"/>
<circle cx="247.6" cy="236.3" r="2.15" fill="#1E3A6E" stroke="#000" stroke-width="0.6"/>
<circle cx="245.7" cy="256.3" r="2.15" fill="#1E3A6E" stroke="#000" stroke-width="0.6"/>
<circle cx="264.4" cy="213.1" r="2.15" fill="#1E3A6E" stroke="#000" stroke-width="0.6"/>
<circle cx="261.3" cy="218.8" r="2.15" fill="#1E3A6E" stroke="#000" stroke-width="0.6"/>
<circle cx="182" cy="280.2" r="2.15" fill="#1E3A6E" stroke="#000" stroke-width="0.6"/>
<circle cx="172.9" cy="288.5" r="2.15" fill="#1E3A6E" stroke="#000" stroke-width="0.6"/>
<circle cx="172.2" cy="291.5" r="2.15" fill="#1E3A6E" stroke="#000" stroke-width="0.6"/>
<circle cx="188.4" cy="291.1" r="2.15" fill="#1E3A6E" stroke="#000" stroke-width="0.6"/>
<circle cx="199.1" cy="277.3" r="2.15" fill="#1E3A6E" stroke="#000" stroke-width="0.6"/>
<circle cx="200.7" cy="276" r="2.15" fill="#1E3A6E" stroke="#000" stroke-width="0.6"/>
<circle cx="199.1" cy="287.6" r="2.15" fill="#1E3A6E" stroke="#000" stroke-width="0.6"/>
<circle cx="199.8" cy="284.6" r="2.15" fill="#1E3A6E" stroke="#000" stroke-width="0.6"/>
<circle cx="205" cy="280.6" r="2.15" fill="#1E3A6E" stroke="#000" stroke-width="0.6"/>
<circle cx="211" cy="268.1" r="2.15" fill="#1E3A6E" stroke="#000" stroke-width="0.6"/>
<circle cx="211.6" cy="277.3" r="2.15" fill="#1E3A6E" stroke="#000" stroke-width="0.6"/>
<circle cx="213.6" cy="262.2" r="2.15" fill="#1E3A6E" stroke="#000" stroke-width="0.6"/>
<circle cx="215.6" cy="272.1" r="2.15" fill="#1E3A6E" stroke="#000" stroke-width="0.6"/>
<circle cx="220.2" cy="276.7" r="2.15" fill="#1E3A6E" stroke="#000" stroke-width="0.6"/>
<circle cx="222.1" cy="263.5" r="2.15" fill="#1E3A6E" stroke="#000" stroke-width="0.6"/>
<circle cx="225.2" cy="267.1" r="2.15" fill="#1E3A6E" stroke="#000" stroke-width="0.6"/>
<circle cx="214.2" cy="286.3" r="2.15" fill="#1E3A6E" stroke="#000" stroke-width="0.6"/>
<circle cx="224.8" cy="281.3" r="2.15" fill="#1E3A6E" stroke="#000" stroke-width="0.6"/>
<circle cx="171.9" cy="291.8" r="2.15" fill="#1E3A6E" stroke="#000" stroke-width="0.6"/>
<circle cx="189" cy="291.1" r="2.15" fill="#1E3A6E" stroke="#000" stroke-width="0.6"/>
<circle cx="243.2" cy="204.4" r="2.15" fill="#1E3A6E" stroke="#000" stroke-width="0.6"/>
<circle cx="233" cy="280.3" r="2.15" fill="#1E3A6E" stroke="#000" stroke-width="0.6"/>
<circle cx="154.8" cy="301.1" r="2.15" fill="#1E3A6E" stroke="#000" stroke-width="0.6"/>
<circle cx="159.2" cy="301.1" r="2.15" fill="#1E3A6E" stroke="#000" stroke-width="0.6"/>
<circle cx="179.6" cy="301.1" r="2.15" fill="#1E3A6E" stroke="#000" stroke-width="0.6"/>
<circle cx="196" cy="301.1" r="2.15" fill="#1E3A6E" stroke="#000" stroke-width="0.6"/>
<circle cx="201.5" cy="301.1" r="2.15" fill="#1E3A6E" stroke="#000" stroke-width="0.6"/>
<circle cx="206.9" cy="301.1" r="2.15" fill="#1E3A6E" stroke="#000" stroke-width="0.6"/>
<circle cx="213.5" cy="301.1" r="2.15" fill="#1E3A6E" stroke="#000" stroke-width="0.6"/>
<circle cx="216.8" cy="301.1" r="2.15" fill="#1E3A6E" stroke="#000" stroke-width="0.6"/>
<circle cx="220" cy="301.1" r="2.15" fill="#1E3A6E" stroke="#000" stroke-width="0.6"/>
<circle cx="223.4" cy="301.1" r="2.15" fill="#1E3A6E" stroke="#000" stroke-width="0.6"/>
<line x1="414.4" y1="7.2" x2="185.7" y2="303.2" stroke="#1E3A6E" stroke-width="2.3" />
<circle cx="287.6" cy="49.2" r="2.2" fill="#7DB3E0"/>
<circle cx="316.1" cy="58" r="2.2" fill="#7DB3E0"/>
<circle cx="333.6" cy="76.1" r="2.2" fill="#7DB3E0"/>
<circle cx="358.4" cy="61.9" r="2.2" fill="#7DB3E0"/>
<circle cx="274.9" cy="139.8" r="2.2" fill="#7DB3E0"/>
<circle cx="289.2" cy="132.4" r="2.2" fill="#7DB3E0"/>
<circle cx="318.7" cy="109.9" r="2.2" fill="#7DB3E0"/>
<circle cx="311.1" cy="126.7" r="2.2" fill="#7DB3E0"/>
<circle cx="311.7" cy="132.4" r="2.2" fill="#7DB3E0"/>
<circle cx="294.7" cy="149.5" r="2.2" fill="#7DB3E0"/>
<circle cx="296.7" cy="155.3" r="2.2" fill="#7DB3E0"/>
<circle cx="283" cy="160.4" r="2.2" fill="#7DB3E0"/>
<circle cx="335.6" cy="151.8" r="2.2" fill="#7DB3E0"/>
<circle cx="247.1" cy="185.5" r="2.2" fill="#7DB3E0"/>
<circle cx="254.8" cy="184" r="2.2" fill="#7DB3E0"/>
<circle cx="261.4" cy="179.4" r="2.2" fill="#7DB3E0"/>
<circle cx="272.3" cy="187.4" r="2.2" fill="#7DB3E0"/>
<circle cx="274.2" cy="190.8" r="2.2" fill="#7DB3E0"/>
<circle cx="283" cy="183.5" r="2.2" fill="#7DB3E0"/>
<circle cx="293.8" cy="188.6" r="2.2" fill="#7DB3E0"/>
<circle cx="296.4" cy="188.9" r="2.2" fill="#7DB3E0"/>
<circle cx="288.4" cy="192.6" r="2.2" fill="#7DB3E0"/>
<circle cx="281.1" cy="194" r="2.2" fill="#7DB3E0"/>
<circle cx="284" cy="201.3" r="2.2" fill="#7DB3E0"/>
<circle cx="274.8" cy="216.3" r="2.2" fill="#7DB3E0"/>
<circle cx="283.8" cy="217.5" r="2.2" fill="#7DB3E0"/>
<circle cx="310.7" cy="217.9" r="2.2" fill="#7DB3E0"/>
<circle cx="293.5" cy="234" r="2.2" fill="#7DB3E0"/>
<circle cx="289" cy="239" r="2.2" fill="#7DB3E0"/>
<circle cx="276.9" cy="240.3" r="2.2" fill="#7DB3E0"/>
<circle cx="270" cy="267.6" r="2.2" fill="#7DB3E0"/>
<circle cx="272.5" cy="267" r="2.2" fill="#7DB3E0"/>
<circle cx="235.8" cy="281.9" r="2.2" fill="#7DB3E0"/>
<circle cx="262" cy="178.8" r="2.2" fill="#7DB3E0"/>
<circle cx="283.8" cy="201.5" r="2.2" fill="#7DB3E0"/>
<line x1="367.5" y1="7.2" x2="233" y2="303.2" stroke="#86BAE4" stroke-width="2.3" />
<line x1="286.2" y1="6.8" x2="286.2" y2="303.2" stroke="#000" stroke-width="1.8" stroke-dasharray="6.6 11.4"/>
<line x1="46.7" y1="263.1" x2="525.8" y2="202.3" stroke="#642D8E" stroke-width="2.3" />
<line x1="46.7" y1="223.2" x2="525.8" y2="222.3" stroke="#F48820" stroke-width="2.3" />
</g>
<rect x="46.7" y="7.2" width="479.1" height="296" fill="none" stroke="#000" stroke-width="1.5"/>
<line x1="41.8" y1="303.2" x2="46.7" y2="303.2" stroke="#000" stroke-width="1.4" />
<text x="37.2" y="307" text-anchor="end" font-size="11.67" font-weight="normal" >0</text>
<line x1="41.8" y1="247.06" x2="46.7" y2="247.06" stroke="#000" stroke-width="1.4" />
<text x="37.2" y="250.86" text-anchor="end" font-size="11.67" font-weight="normal" >0.5</text>
<line x1="41.8" y1="190.92" x2="46.7" y2="190.92" stroke="#000" stroke-width="1.4" />
<text x="37.2" y="194.72" text-anchor="end" font-size="11.67" font-weight="normal" >1.0</text>
<line x1="41.8" y1="134.78" x2="46.7" y2="134.78" stroke="#000" stroke-width="1.4" />
<text x="37.2" y="138.58" text-anchor="end" font-size="11.67" font-weight="normal" >1.5</text>
<line x1="41.8" y1="78.64" x2="46.7" y2="78.64" stroke="#000" stroke-width="1.4" />
<text x="37.2" y="82.44" text-anchor="end" font-size="11.67" font-weight="normal" >2.0</text>
<line x1="41.8" y1="22.5" x2="46.7" y2="22.5" stroke="#000" stroke-width="1.4" />
<text x="37.2" y="26.3" text-anchor="end" font-size="11.67" font-weight="normal" >2.5</text>
<line x1="46.62" y1="303.2" x2="46.62" y2="308.8" stroke="#000" stroke-width="1.4" />
<line x1="106.54" y1="303.2" x2="106.54" y2="308.8" stroke="#000" stroke-width="1.4" />
<line x1="166.46" y1="303.2" x2="166.46" y2="308.8" stroke="#000" stroke-width="1.4" />
<line x1="226.38" y1="303.2" x2="226.38" y2="308.8" stroke="#000" stroke-width="1.4" />
<line x1="286.3" y1="303.2" x2="286.3" y2="308.8" stroke="#000" stroke-width="1.4" />
<line x1="346.22" y1="303.2" x2="346.22" y2="308.8" stroke="#000" stroke-width="1.4" />
<line x1="406.14" y1="303.2" x2="406.14" y2="308.8" stroke="#000" stroke-width="1.4" />
<line x1="466.06" y1="303.2" x2="466.06" y2="308.8" stroke="#000" stroke-width="1.4" />
<line x1="525.98" y1="303.2" x2="525.98" y2="308.8" stroke="#000" stroke-width="1.4" />
<text x="46.62" y="322.1" text-anchor="middle" font-size="11.67" font-weight="normal" >–0.16</text>
<text x="166.46" y="322.1" text-anchor="middle" font-size="11.67" font-weight="normal" >–0.08</text>
<text x="286.3" y="322.1" text-anchor="middle" font-size="11.67" font-weight="normal" >0</text>
<text x="406.14" y="322.1" text-anchor="middle" font-size="11.67" font-weight="normal" >0.08</text>
<text x="525.98" y="322.1" text-anchor="middle" font-size="11.67" font-weight="normal" >0.16</text>
<text x="106.3" y="335.2" text-anchor="middle" font-size="12.1" font-weight="normal" >Convex</text>
<text x="466" y="334.4" text-anchor="middle" font-size="12.1" font-weight="normal" >Concave</text>
<text x="285.9" y="343.5" text-anchor="middle" font-size="11.67" font-weight="normal" >Curvature (m<tspan font-size="8.2" dy="-4.3">−1</tspan><tspan dy="4.3">)</tspan></text>
<text transform="translate(8.6,156.6) rotate(-90)" text-anchor="middle" font-size="11.67">Thickness of mobile regolith (m)</text>
<text x="1.2" y="8.9" text-anchor="start" font-size="16.5" font-weight="bold" >a</text>
<text x="533.6" y="16.5" text-anchor="start" font-size="11.67" font-weight="normal" >Johnston draw (38)</text>
<text x="565" y="30.5" text-anchor="start" font-size="11.67" font-weight="normal" >TMR = 21.58<tspan font-style="italic">C</tspan> + 1.04</text>
<text x="565" y="42.2" text-anchor="start" font-size="11.67" font-weight="normal" ><tspan font-style="italic">r</tspan><tspan font-size="8" dx="1.0" dy="-4.7">2</tspan><tspan dx="0.2" dy="4.7"> = 0.44</tspan></text>
<text x="565" y="54.3" text-anchor="start" font-size="11.67" font-weight="normal" >RMSE = 0.40 m</text>
<text x="533.6" y="68.3" text-anchor="start" font-size="11.67" font-weight="normal" >Point reyes (76)</text>
<text x="565" y="82.9" text-anchor="start" font-size="11.67" font-weight="normal" >TMR = 15.41<tspan font-style="italic">C</tspan> + 1.11</text>
<text x="565" y="94.5" text-anchor="start" font-size="11.67" font-weight="normal" ><tspan font-style="italic">r</tspan><tspan font-size="8" dx="1.0" dy="-4.7">2</tspan><tspan dx="0.2" dy="4.7"> = 0.69</tspan></text>
<text x="565" y="106.1" text-anchor="start" font-size="11.67" font-weight="normal" >RMSE = 0.18 m</text>
<text x="533.6" y="122" text-anchor="start" font-size="11.67" font-weight="normal" >Nunnock river (111)</text>
<text x="565" y="136.9" text-anchor="start" font-size="11.67" font-weight="normal" >TMR = 16.86<tspan font-style="italic">C</tspan> + 0.57</text>
<text x="565" y="148.8" text-anchor="start" font-size="11.67" font-weight="normal" ><tspan font-style="italic">r</tspan><tspan font-size="8" dx="1.0" dy="-4.7">2</tspan><tspan dx="0.2" dy="4.7"> = 0.85</tspan></text>
<text x="565" y="160.8" text-anchor="start" font-size="11.67" font-weight="normal" >RMSE = 0.08 m</text>
<text x="533.6" y="175.9" text-anchor="start" font-size="11.67" font-weight="normal" >Tennessee valley (90)</text>
<text x="565" y="190.8" text-anchor="start" font-size="11.67" font-weight="normal" >TMR = 13.39<tspan font-style="italic">C</tspan> + 0.57</text>
<text x="565" y="202.8" text-anchor="start" font-size="11.67" font-weight="normal" ><tspan font-style="italic">r</tspan><tspan font-size="8" dx="1.0" dy="-4.7">2</tspan><tspan dx="0.2" dy="4.7"> = 0.61</tspan></text>
<text x="565" y="214.9" text-anchor="start" font-size="11.67" font-weight="normal" >RMSE = 0.15 m</text>
<text x="533.6" y="230.2" text-anchor="start" font-size="11.67" font-weight="normal" >Coos bay (123)</text>
<text x="565" y="245.3" text-anchor="start" font-size="11.67" font-weight="normal" >TMR = 1.67<tspan font-style="italic">C</tspan> + 0.63</text>
<text x="565" y="256.8" text-anchor="start" font-size="11.67" font-weight="normal" ><tspan font-style="italic">r</tspan><tspan font-size="8" dx="1.0" dy="-4.7">2</tspan><tspan dx="0.2" dy="4.7"> = 0.07</tspan></text>
<text x="565" y="268.4" text-anchor="start" font-size="11.67" font-weight="normal" >RMSE = 0.27 m</text>
<text x="533.6" y="284.7" text-anchor="start" font-size="11.67" font-weight="normal" >Marshall gulch (24)</text>
<text x="565" y="299.9" text-anchor="start" font-size="11.67" font-weight="normal" >TMR = 0.002<tspan font-style="italic">C</tspan> + 0.72</text>
<text x="565" y="313.1" text-anchor="start" font-size="11.67" font-weight="normal" ><tspan font-style="italic">r</tspan><tspan font-size="8" dx="1.0" dy="-4.7">2</tspan><tspan dx="0.2" dy="4.7"> = 0.0001</tspan></text>
<text x="565" y="327.3" text-anchor="start" font-size="11.67" font-weight="normal" >RMSE = 0.25 m</text>
<circle cx="678.1" cy="10.9" r="4.4" fill="#86BAE4" stroke="#222" stroke-width="0.7"/>
<circle cx="678.1" cy="64.8" r="4.4" fill="#1E3A6E" stroke="#111" stroke-width="0.7"/>
<rect x="674.6" y="114" width="9.1" height="9.1" fill="#6CAC48" stroke="#2a3a1a" stroke-width="0.7"/>
<rect x="674.7" y="167.4" width="9.1" height="9.1" fill="#395829" stroke="#111" stroke-width="0.7"/>
<path d="M679.4 220.3L684.6 229.3L674.2 229.3Z" fill="#642D8E" stroke="#111" stroke-width="0.7"/>
<path d="M679.4 274.3L684.6 283.1L674.2 283.1Z" fill="#F48820" stroke="#111" stroke-width="0.7"/>
<rect x="106.1" y="412.4" width="11.82" height="1.9" fill="#86BAE4" stroke="#000" stroke-width="0.95"/>
<rect x="117.92" y="411.3" width="11.82" height="3" fill="#86BAE4" stroke="#000" stroke-width="0.95"/>
<rect x="129.74" y="408.2" width="11.82" height="6.1" fill="#86BAE4" stroke="#000" stroke-width="0.95"/>
<rect x="141.56" y="401.9" width="11.82" height="12.4" fill="#86BAE4" stroke="#000" stroke-width="0.95"/>
<rect x="153.38" y="377.1" width="11.82" height="37.2" fill="#86BAE4" stroke="#000" stroke-width="0.95"/>
<rect x="165.2" y="375.3" width="11.82" height="39" fill="#86BAE4" stroke="#000" stroke-width="0.95"/>
<rect x="177.02" y="399.3" width="11.82" height="15" fill="#86BAE4" stroke="#000" stroke-width="0.95"/>
<rect x="188.84" y="404.2" width="11.82" height="10.1" fill="#86BAE4" stroke="#000" stroke-width="0.95"/>
<rect x="200.66" y="408.7" width="11.82" height="5.6" fill="#86BAE4" stroke="#000" stroke-width="0.95"/>
<rect x="212.48" y="411.3" width="11.82" height="3" fill="#86BAE4" stroke="#000" stroke-width="0.95"/>
<rect x="224.3" y="412.4" width="11.82" height="1.9" fill="#86BAE4" stroke="#000" stroke-width="0.95"/>
<rect x="42.6" y="372.5" width="244.6" height="41.8" fill="none" stroke="#000" stroke-width="1.45"/>
<text x="283.6" y="385.1" text-anchor="end" font-size="11.67" font-weight="normal" >JD</text>
<rect x="58.82" y="458.9" width="11.82" height="0.4" fill="#395829" stroke="#000" stroke-width="0.95"/>
<rect x="70.64" y="458.9" width="11.82" height="0.4" fill="#395829" stroke="#000" stroke-width="0.95"/>
<rect x="82.46" y="458.8" width="11.82" height="0.5" fill="#395829" stroke="#000" stroke-width="0.95"/>
<rect x="94.28" y="458.3" width="11.82" height="1" fill="#395829" stroke="#000" stroke-width="0.95"/>
<rect x="106.1" y="457.9" width="11.82" height="1.4" fill="#395829" stroke="#000" stroke-width="0.95"/>
<rect x="117.92" y="456.9" width="11.82" height="2.4" fill="#395829" stroke="#000" stroke-width="0.95"/>
<rect x="129.74" y="450.7" width="11.82" height="8.6" fill="#395829" stroke="#000" stroke-width="0.95"/>
<rect x="141.56" y="441.2" width="11.82" height="18.1" fill="#395829" stroke="#000" stroke-width="0.95"/>
<rect x="153.38" y="428.2" width="11.82" height="31.1" fill="#395829" stroke="#000" stroke-width="0.95"/>
<rect x="165.2" y="422.8" width="11.82" height="36.5" fill="#395829" stroke="#000" stroke-width="0.95"/>
<rect x="177.02" y="438.3" width="11.82" height="21" fill="#395829" stroke="#000" stroke-width="0.95"/>
<rect x="188.84" y="452.2" width="11.82" height="7.1" fill="#395829" stroke="#000" stroke-width="0.95"/>
<rect x="200.66" y="457.5" width="11.82" height="1.8" fill="#395829" stroke="#000" stroke-width="0.95"/>
<rect x="212.48" y="458.4" width="11.82" height="0.9" fill="#395829" stroke="#000" stroke-width="0.95"/>
<rect x="224.3" y="458.9" width="11.82" height="0.4" fill="#395829" stroke="#000" stroke-width="0.95"/>
<rect x="42.6" y="417.8" width="244.6" height="41.5" fill="none" stroke="#000" stroke-width="1.45"/>
<text x="283.6" y="430.3" text-anchor="end" font-size="11.67" font-weight="normal" >TV</text>
<rect x="47" y="504.3" width="11.82" height="0.4" fill="#031E40" stroke="#000" stroke-width="0.95"/>
<rect x="58.82" y="504.1" width="11.82" height="0.6" fill="#031E40" stroke="#000" stroke-width="0.95"/>
<rect x="70.64" y="503.8" width="11.82" height="0.9" fill="#031E40" stroke="#000" stroke-width="0.95"/>
<rect x="82.46" y="503.1" width="11.82" height="1.6" fill="#031E40" stroke="#000" stroke-width="0.95"/>
<rect x="94.28" y="502.6" width="11.82" height="2.1" fill="#031E40" stroke="#000" stroke-width="0.95"/>
<rect x="106.1" y="501" width="11.82" height="3.7" fill="#031E40" stroke="#000" stroke-width="0.95"/>
<rect x="117.92" y="498.9" width="11.82" height="5.8" fill="#031E40" stroke="#000" stroke-width="0.95"/>
<rect x="129.74" y="494.2" width="11.82" height="10.5" fill="#031E40" stroke="#000" stroke-width="0.95"/>
<rect x="141.56" y="485.8" width="11.82" height="18.9" fill="#031E40" stroke="#000" stroke-width="0.95"/>
<rect x="153.38" y="469.1" width="11.82" height="35.6" fill="#031E40" stroke="#000" stroke-width="0.95"/>
<rect x="165.2" y="468.2" width="11.82" height="36.5" fill="#031E40" stroke="#000" stroke-width="0.95"/>
<rect x="177.02" y="484.1" width="11.82" height="20.6" fill="#031E40" stroke="#000" stroke-width="0.95"/>
<rect x="188.84" y="494.7" width="11.82" height="10" fill="#031E40" stroke="#000" stroke-width="0.95"/>
<rect x="200.66" y="499.4" width="11.82" height="5.3" fill="#031E40" stroke="#000" stroke-width="0.95"/>
<rect x="212.48" y="501.9" width="11.82" height="2.8" fill="#031E40" stroke="#000" stroke-width="0.95"/>
<rect x="224.3" y="503.3" width="11.82" height="1.4" fill="#031E40" stroke="#000" stroke-width="0.95"/>
<rect x="236.12" y="503.7" width="11.82" height="1" fill="#031E40" stroke="#000" stroke-width="0.95"/>
<rect x="247.94" y="504.1" width="11.82" height="0.6" fill="#031E40" stroke="#000" stroke-width="0.95"/>
<rect x="259.76" y="504.3" width="11.82" height="0.4" fill="#031E40" stroke="#000" stroke-width="0.95"/>
<rect x="42.6" y="463.2" width="244.6" height="41.5" fill="none" stroke="#000" stroke-width="1.45"/>
<text x="283.6" y="476.7" text-anchor="end" font-size="11.67" font-weight="normal" >PR</text>
<rect x="47" y="548.8" width="11.82" height="1.2" fill="#642D8E" stroke="#000" stroke-width="0.95"/>
<rect x="58.82" y="547.9" width="11.82" height="2.1" fill="#642D8E" stroke="#000" stroke-width="0.95"/>
<rect x="70.64" y="546.3" width="11.82" height="3.7" fill="#642D8E" stroke="#000" stroke-width="0.95"/>
<rect x="82.46" y="545.3" width="11.82" height="4.7" fill="#642D8E" stroke="#000" stroke-width="0.95"/>
<rect x="94.28" y="542.7" width="11.82" height="7.3" fill="#642D8E" stroke="#000" stroke-width="0.95"/>
<rect x="106.1" y="539.3" width="11.82" height="10.7" fill="#642D8E" stroke="#000" stroke-width="0.95"/>
<rect x="117.92" y="534.1" width="11.82" height="15.9" fill="#642D8E" stroke="#000" stroke-width="0.95"/>
<rect x="129.74" y="528.3" width="11.82" height="21.7" fill="#642D8E" stroke="#000" stroke-width="0.95"/>
<rect x="141.56" y="522" width="11.82" height="28" fill="#642D8E" stroke="#000" stroke-width="0.95"/>
<rect x="153.38" y="513.6" width="11.82" height="36.4" fill="#642D8E" stroke="#000" stroke-width="0.95"/>
<rect x="165.2" y="514.2" width="11.82" height="35.8" fill="#642D8E" stroke="#000" stroke-width="0.95"/>
<rect x="177.02" y="519.3" width="11.82" height="30.7" fill="#642D8E" stroke="#000" stroke-width="0.95"/>
<rect x="188.84" y="526" width="11.82" height="24" fill="#642D8E" stroke="#000" stroke-width="0.95"/>
<rect x="200.66" y="533.4" width="11.82" height="16.6" fill="#642D8E" stroke="#000" stroke-width="0.95"/>
<rect x="212.48" y="539.3" width="11.82" height="10.7" fill="#642D8E" stroke="#000" stroke-width="0.95"/>
<rect x="224.3" y="543.4" width="11.82" height="6.6" fill="#642D8E" stroke="#000" stroke-width="0.95"/>
<rect x="236.12" y="546.5" width="11.82" height="3.5" fill="#642D8E" stroke="#000" stroke-width="0.95"/>
<rect x="247.94" y="547.5" width="11.82" height="2.5" fill="#642D8E" stroke="#000" stroke-width="0.95"/>
<rect x="259.76" y="548.7" width="11.82" height="1.3" fill="#642D8E" stroke="#000" stroke-width="0.95"/>
<rect x="271.58" y="549.3" width="11.82" height="0.7" fill="#642D8E" stroke="#000" stroke-width="0.95"/>
<rect x="42.6" y="508.5" width="244.6" height="41.5" fill="none" stroke="#000" stroke-width="1.45"/>
<text x="283.6" y="521.8" text-anchor="end" font-size="11.67" font-weight="normal" >CB</text>
<rect x="47" y="593.4" width="11.82" height="1.9" fill="#F48820" stroke="#000" stroke-width="0.95"/>
<rect x="58.82" y="592.6" width="11.82" height="2.7" fill="#F48820" stroke="#000" stroke-width="0.95"/>
<rect x="70.64" y="592.2" width="11.82" height="3.1" fill="#F48820" stroke="#000" stroke-width="0.95"/>
<rect x="82.46" y="587.3" width="11.82" height="8" fill="#F48820" stroke="#000" stroke-width="0.95"/>
<rect x="94.28" y="581.5" width="11.82" height="13.8" fill="#F48820" stroke="#000" stroke-width="0.95"/>
<rect x="106.1" y="578.4" width="11.82" height="16.9" fill="#F48820" stroke="#000" stroke-width="0.95"/>
<rect x="117.92" y="573.1" width="11.82" height="22.2" fill="#F48820" stroke="#000" stroke-width="0.95"/>
<rect x="129.74" y="569.3" width="11.82" height="26" fill="#F48820" stroke="#000" stroke-width="0.95"/>
<rect x="141.56" y="567" width="11.82" height="28.3" fill="#F48820" stroke="#000" stroke-width="0.95"/>
<rect x="153.38" y="559.9" width="11.82" height="35.4" fill="#F48820" stroke="#000" stroke-width="0.95"/>
<rect x="165.2" y="562.9" width="11.82" height="32.4" fill="#F48820" stroke="#000" stroke-width="0.95"/>
<rect x="177.02" y="558.6" width="11.82" height="36.7" fill="#F48820" stroke="#000" stroke-width="0.95"/>
<rect x="188.84" y="564.9" width="11.82" height="30.4" fill="#F48820" stroke="#000" stroke-width="0.95"/>
<rect x="200.66" y="572.5" width="11.82" height="22.8" fill="#F48820" stroke="#000" stroke-width="0.95"/>
<rect x="212.48" y="579.2" width="11.82" height="16.1" fill="#F48820" stroke="#000" stroke-width="0.95"/>
<rect x="224.3" y="584.7" width="11.82" height="10.6" fill="#F48820" stroke="#000" stroke-width="0.95"/>
<rect x="236.12" y="587.4" width="11.82" height="7.9" fill="#F48820" stroke="#000" stroke-width="0.95"/>
<rect x="247.94" y="589.4" width="11.82" height="5.9" fill="#F48820" stroke="#000" stroke-width="0.95"/>
<rect x="259.76" y="593.1" width="11.82" height="2.2" fill="#F48820" stroke="#000" stroke-width="0.95"/>
<rect x="271.58" y="594.3" width="11.82" height="1" fill="#F48820" stroke="#000" stroke-width="0.95"/>
<rect x="42.6" y="553.7" width="244.6" height="41.6" fill="none" stroke="#000" stroke-width="1.45"/>
<text x="283.6" y="567" text-anchor="end" font-size="11.67" font-weight="normal" >MG</text>
<line x1="47.6" y1="595.3" x2="47.6" y2="599" stroke="#000" stroke-width="1.4" />
<line x1="71.1" y1="595.3" x2="71.1" y2="601.6" stroke="#000" stroke-width="1.4" />
<line x1="94.6" y1="595.3" x2="94.6" y2="599" stroke="#000" stroke-width="1.4" />
<line x1="118.1" y1="595.3" x2="118.1" y2="601.6" stroke="#000" stroke-width="1.4" />
<line x1="141.6" y1="595.3" x2="141.6" y2="599" stroke="#000" stroke-width="1.4" />
<line x1="165.1" y1="595.3" x2="165.1" y2="601.6" stroke="#000" stroke-width="1.4" />
<line x1="188.6" y1="595.3" x2="188.6" y2="599" stroke="#000" stroke-width="1.4" />
<line x1="212.1" y1="595.3" x2="212.1" y2="601.6" stroke="#000" stroke-width="1.4" />
<line x1="235.6" y1="595.3" x2="235.6" y2="599" stroke="#000" stroke-width="1.4" />
<line x1="259.1" y1="595.3" x2="259.1" y2="601.6" stroke="#000" stroke-width="1.4" />
<line x1="282.6" y1="595.3" x2="282.6" y2="599" stroke="#000" stroke-width="1.4" />
<text x="71.1" y="617.4" text-anchor="middle" font-size="11.67" font-weight="normal" >–0.16</text>
<text x="118.1" y="617.4" text-anchor="middle" font-size="11.67" font-weight="normal" >–0.08</text>
<text x="165.1" y="617.4" text-anchor="middle" font-size="11.67" font-weight="normal" >0</text>
<text x="213.6" y="617.4" text-anchor="middle" font-size="11.67" font-weight="normal" >0.08</text>
<text x="260.6" y="617.4" text-anchor="middle" font-size="11.67" font-weight="normal" >0.16</text>
<text x="163.3" y="636.5" text-anchor="middle" font-size="11.67" font-weight="normal" >Curvature (m<tspan font-size="8.2" dy="-4.3">−1</tspan><tspan dy="4.3">)</tspan></text>
<text transform="translate(18.4,486.5) rotate(-90)" text-anchor="middle" font-size="11.67">Catchment frequency</text>
<text transform="translate(33.3,486.5) rotate(-90)" text-anchor="middle" font-size="11.67">of curvatures</text>
<text x="-1" y="372.5" text-anchor="start" font-size="16.5" font-weight="bold" >b</text>
<line x1="404.4" y1="564.6" x2="683.3" y2="564.6" stroke="#555" stroke-width="1.1" stroke-dasharray="13.9 14" stroke-dashoffset="6.4"/>
<line x1="409.8" y1="370.2" x2="665.2" y2="595.5" stroke="#000" stroke-width="1.8" />
<line x1="477.5" y1="400.4" x2="477.5" y2="452.4" stroke="#111" stroke-width="1.0" />
<line x1="475" y1="400.4" x2="480" y2="400.4" stroke="#111" stroke-width="1.0" />
<line x1="475" y1="452.4" x2="480" y2="452.4" stroke="#111" stroke-width="1.0" />
<line x1="519.2" y1="472.2" x2="519.2" y2="487.4" stroke="#111" stroke-width="1.0" />
<line x1="516.7" y1="472.2" x2="521.7" y2="472.2" stroke="#111" stroke-width="1.0" />
<line x1="516.7" y1="487.4" x2="521.7" y2="487.4" stroke="#111" stroke-width="1.0" />
<line x1="535" y1="458.4" x2="535" y2="473.6" stroke="#111" stroke-width="1.0" />
<line x1="532.5" y1="458.4" x2="537.5" y2="458.4" stroke="#111" stroke-width="1.0" />
<line x1="532.5" y1="473.6" x2="537.5" y2="473.6" stroke="#111" stroke-width="1.0" />
<line x1="601.3" y1="549.6" x2="601.3" y2="551.5" stroke="#111" stroke-width="1.0" />
<line x1="599.3" y1="549.6" x2="603.3" y2="549.6" stroke="#111" stroke-width="1.0" />
<line x1="599.3" y1="551.5" x2="603.3" y2="551.5" stroke="#111" stroke-width="1.0" />
<line x1="642.7" y1="560.9" x2="642.7" y2="563" stroke="#111" stroke-width="1.0" />
<line x1="640.7" y1="560.9" x2="644.7" y2="560.9" stroke="#111" stroke-width="1.0" />
<line x1="640.7" y1="563" x2="644.7" y2="563" stroke="#111" stroke-width="1.0" />
<circle cx="477.5" cy="425.8" r="4.3" fill="#86BAE4" stroke="#222" stroke-width="0.7"/>
<rect x="514.7" y="475.3" width="9" height="9" fill="#395829" stroke="#111" stroke-width="0.7"/>
<circle cx="535" cy="466.1" r="4.5" fill="#1E3A6E" stroke="#111" stroke-width="0.7"/>
<path d="M601.3 550.1L606.8 558.6L595.8 558.6Z" fill="#642D8E" stroke="#111" stroke-width="0.7"/>
<path d="M642.8 561.4L648.1 569.8L637.5 569.8Z" fill="#F48820" stroke="#111" stroke-width="0.7"/>
<rect x="404.4" y="370.2" width="278.9" height="225.3" fill="none" stroke="#000" stroke-width="1.45"/>
<line x1="398.3" y1="369.2" x2="404.4" y2="369.2" stroke="#000" stroke-width="1.3" />
<text x="393.9" y="375.7" text-anchor="end" font-size="11.67" font-weight="normal" >30</text>
<line x1="398.3" y1="403.3" x2="404.4" y2="403.3" stroke="#000" stroke-width="1.3" />
<text x="393.9" y="407.7" text-anchor="end" font-size="11.67" font-weight="normal" >25</text>
<line x1="398.3" y1="435.2" x2="404.4" y2="435.2" stroke="#000" stroke-width="1.3" />
<text x="393.9" y="439.8" text-anchor="end" font-size="11.67" font-weight="normal" >20</text>
<line x1="398.3" y1="468" x2="404.4" y2="468" stroke="#000" stroke-width="1.3" />
<text x="393.9" y="471.2" text-anchor="end" font-size="11.67" font-weight="normal" >15</text>
<line x1="398.3" y1="500.2" x2="404.4" y2="500.2" stroke="#000" stroke-width="1.3" />
<text x="393.9" y="503.4" text-anchor="end" font-size="11.67" font-weight="normal" >10</text>
<line x1="398.3" y1="532.6" x2="404.4" y2="532.6" stroke="#000" stroke-width="1.3" />
<text x="393.9" y="534.9" text-anchor="end" font-size="11.67" font-weight="normal" >5</text>
<line x1="398.3" y1="564.8" x2="404.4" y2="564.8" stroke="#000" stroke-width="1.3" />
<text x="393.9" y="566.8" text-anchor="end" font-size="11.67" font-weight="normal" >0</text>
<line x1="398.3" y1="595" x2="404.4" y2="595" stroke="#000" stroke-width="1.3" />
<text x="393.9" y="598.9" text-anchor="end" font-size="11.67" font-weight="normal" >–5</text>
<line x1="404.7" y1="595.5" x2="404.7" y2="601.2" stroke="#000" stroke-width="1.3" />
<line x1="437.77" y1="595.5" x2="437.77" y2="601.2" stroke="#000" stroke-width="1.3" />
<line x1="470.84" y1="595.5" x2="470.84" y2="601.2" stroke="#000" stroke-width="1.3" />
<line x1="503.91" y1="595.5" x2="503.91" y2="601.2" stroke="#000" stroke-width="1.3" />
<line x1="536.98" y1="595.5" x2="536.98" y2="601.2" stroke="#000" stroke-width="1.3" />
<line x1="570.05" y1="595.5" x2="570.05" y2="601.2" stroke="#000" stroke-width="1.3" />
<line x1="603.12" y1="595.5" x2="603.12" y2="601.2" stroke="#000" stroke-width="1.3" />
<line x1="636.19" y1="595.5" x2="636.19" y2="601.2" stroke="#000" stroke-width="1.3" />
<line x1="669.26" y1="595.5" x2="669.26" y2="601.2" stroke="#000" stroke-width="1.3" />
<text x="404.7" y="617.5" text-anchor="middle" font-size="11.67" font-weight="normal" >0</text>
<text x="471.04" y="617.5" text-anchor="middle" font-size="11.67" font-weight="normal" >0.02</text>
<text x="537.88" y="617.5" text-anchor="middle" font-size="11.67" font-weight="normal" >0.04</text>
<text x="604.32" y="617.5" text-anchor="middle" font-size="11.67" font-weight="normal" >0.06</text>
<text x="670.46" y="617.5" text-anchor="middle" font-size="11.67" font-weight="normal" >0.08</text>
<text x="544.6" y="636.6" text-anchor="middle" font-size="11.67" font-weight="normal" >Standard deviation of curvature (m<tspan font-size="8.2" dy="-4.3">−1</tspan><tspan dy="4.3">)</tspan></text>
<text transform="translate(353.0,483.5) rotate(-90)" text-anchor="middle" font-size="11.67">Slope of TMR-curvature</text>
<text transform="translate(367.2,483.6) rotate(-90)" text-anchor="middle" font-size="11.67">function (m<tspan font-size="8.2" dy="-4.3">2</tspan><tspan dy="4.3">)</tspan></text>
<text x="664.6" y="391.9" text-anchor="end" font-size="11.67" font-weight="normal" ><tspan font-style="italic">y</tspan> = –446.3<tspan font-style="italic">x</tspan> + 30.3</text>
<text x="340.8" y="371.8" text-anchor="start" font-size="16.5" font-weight="bold" >c</text>
</svg>
</body></html>
